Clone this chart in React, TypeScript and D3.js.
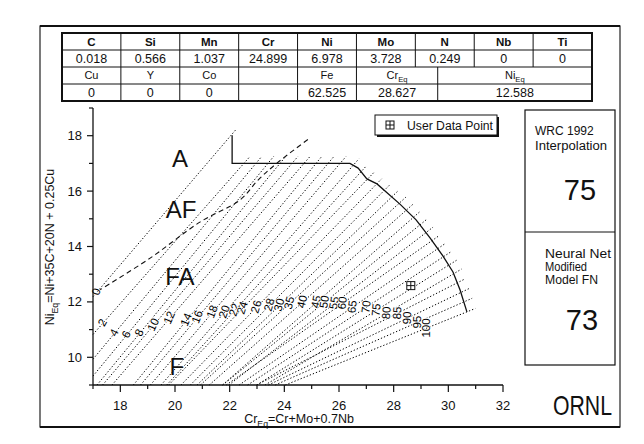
import React from "react";
import * as d3 from "d3";

// iso-ferrite lines: where each label sits and where the line meets the boundary
const fnValues = [0, 2, 4, 6, 8, 10, 12, 14, 16, 18, 20, 22, 24, 26, 28, 30, 35, 40, 45, 50, 55, 60, 65, 70, 75, 80, 85, 90, 95, 100];
const labelCr = [17.15, 17.37, 17.8, 18.24, 18.72, 19.23, 19.82, 20.44, 20.84, 21.39, 21.83, 22.2, 22.49, 23.0, 23.48, 23.84, 24.21, 24.68, 25.2, 25.49, 25.85, 26.15, 26.51, 27.02, 27.39, 27.76, 28.16, 28.52, 28.89, 29.22];
const labelNi = [12.36, 11.24, 10.88, 10.81, 10.88, 11.17, 11.42, 11.35, 11.45, 11.64, 11.64, 11.71, 11.78, 11.82, 11.89, 11.89, 11.96, 12.0, 12.0, 12.0, 11.96, 11.96, 11.82, 11.82, 11.71, 11.6, 11.6, 11.42, 11.27, 11.06];
const endCr = [22.09, 22.52, 22.96, 23.4, 23.84, 24.28, 24.72, 25.16, 25.6, 26.04, 26.51, 26.78, 27.04, 27.33, 27.62, 27.91, 28.2, 28.46, 28.72, 28.96, 29.18, 29.4, 29.61, 29.82, 30.02, 30.2, 30.33, 30.46, 30.57, 30.68];
const endNi = [18.06, 17, 17, 17, 17, 17, 17, 17, 17, 17, 16.92, 16.67, 16.43, 16.21, 15.99, 15.77, 15.56, 15.31, 15.05, 14.78, 14.5, 14.21, 13.92, 13.63, 13.33, 13.02, 12.69, 12.34, 12.0, 11.64];

// solid outline of the diagram (top step and the curved right side)
const boundaryCr = [22.09, 22.09, 26.4, 26.7, 27.02, 27.39, 28.23, 28.82, 29.33, 29.8, 30.17, 30.43, 30.68];
const boundaryNi = [18.02, 17.0, 17.0, 16.83, 16.44, 16.26, 15.53, 14.96, 14.31, 13.66, 13.08, 12.43, 11.64];

// AF / FA dashed boundary
const dashCr = [17.18, 19.09, 20.91, 22.38, 23.04, 23.73, 24.94];
const dashNi = [12.39, 13.58, 14.88, 15.68, 16.4, 17.01, 17.92];

const regionNames = ["A", "AF", "FA", "F"];
const regionCr = [20.18, 20.22, 20.18, 20.07];
const regionNi = [16.87, 15.03, 12.61, 9.36];

const userCr = 28.627;
const userNi = 12.588;

const xTicks = [17, 18, 19, 20, 21, 22, 23, 24, 25, 26, 27, 28, 29, 30, 31, 32];
const xTickLabels = [18, 20, 22, 24, 26, 28, 30, 32];
const yTicks = [9, 10, 11, 12, 13, 14, 15, 16, 17, 18, 19];
const yTickLabels = [10, 12, 14, 16, 18];

const headRow1 = ["C", "Si", "Mn", "Cr", "Ni", "Mo", "N", "Nb", "Ti"];
const valRow1 = ["0.018", "0.566", "1.037", "24.899", "6.978", "3.728", "0.249", "0", "0"];
const headRow2 = ["Cu", "Y", "Co", "", "Fe", "Cr|Eq", "Ni|Eq"];
const valRow2 = ["0", "0", "0", "", "62.525", "28.627", "12.588"];
const spanRow2 = [1, 1, 1, 1, 1, 1.38, 2.62];

const wrcFN = "75";
const nnFN = "73";

const font = "'Liberation Sans', Arial, sans-serif";

function Sub({ s, size }: { s: string; size: number }) {
  const [a, b] = s.split("|");
  if (!b) return <>{a}</>;
  return (
    <>
      {a}
      <tspan fontSize={size * 0.7} dy={size * 0.28}>{b}</tspan>
    </>
  );
}

export default function App() {
  const x = d3.scaleLinear().domain([17, 32]).range([93, 503]);
  const y = d3.scaleLinear().domain([9, 19]).range([385, 108]);

  const lineGen = d3
    .line<[number, number]>()
    .x((d) => x(d[0]))
    .y((d) => y(d[1]));

  const fnLines = fnValues.map((fn, i) => {
    const lx = x(labelCr[i]);
    const ly = y(labelNi[i]);
    const ex = x(endCr[i]);
    const ey = y(endNi[i]);
    const len = Math.hypot(ex - lx, ey - ly);
    const ux = (ex - lx) / len;
    const uy = (ey - ly) / len;
    const tLeft = (lx - x(17)) / ux;
    const tBottom = (y(9) - ly) / -uy;
    const t = Math.min(tLeft, tBottom);
    const over = i === 0 ? 6 : 9;
    return {
      fn,
      x1: lx - t * ux,
      y1: ly - t * uy,
      x2: ex + over * ux,
      y2: ey + over * uy,
      lx,
      ly,
      angle: i === 0 ? -70 : -60 - (30 * i) / (fnValues.length - 1),
    };
  });

  const boundary = lineGen(boundaryCr.map((c, i) => [c, boundaryNi[i]] as [number, number]));
  const dashPath = d3
    .line<[number, number]>()
    .x((d) => x(d[0]))
    .y((d) => y(d[1]))
    .curve(d3.curveCatmullRom)(dashCr.map((c, i) => [c, dashNi[i]] as [number, number]));

  // table geometry
  const tx0 = 62;
  const tx1 = 592;
  const colW = (tx1 - tx0) / headRow1.length;
  const rowY = [33, 50, 67, 84, 101];
  let acc = tx0;
  const row2Edges = [tx0, ...spanRow2.map((s) => (acc += s * colW))];

  const ux = x(userCr);
  const uy = y(userNi);

  return (
    <div style={{ position: "fixed", left: 0, top: 0 }}>
      <svg width={644} height={444} style={{ display: "block", background: "#fff" }} fontFamily={font}>
        {/* outer frame */}
        <rect x={40} y={26} width={580} height={401} fill="none" stroke="#222" strokeWidth={1.2} />
        <line x1={40} x2={620} y1={26} y2={26} stroke="#111" strokeWidth={2} />
        <line x1={40} x2={620} y1={427} y2={427} stroke="#111" strokeWidth={2} />

        {/* composition table */}
        <g>
          <rect x={tx0} y={rowY[0]} width={tx1 - tx0} height={rowY[4] - rowY[0]} fill="none" stroke="#111" strokeWidth={2} />
          {rowY.slice(1, 4).map((ry) => (
            <line key={ry} x1={tx0} x2={tx1} y1={ry} y2={ry} stroke="#111" strokeWidth={1} />
          ))}
          {headRow1.slice(1).map((_, i) => (
            <line key={"c" + i} x1={tx0 + (i + 1) * colW} x2={tx0 + (i + 1) * colW} y1={rowY[0]} y2={rowY[2]} stroke="#111" strokeWidth={1} />
          ))}
          {row2Edges.slice(1, -1).map((ex, i) => (
            <line key={"d" + i} x1={ex} x2={ex} y1={rowY[2]} y2={rowY[4]} stroke="#111" strokeWidth={1} />
          ))}
          {headRow1.map((h, i) => (
            <text key={"h1" + i} x={tx0 + (i + 0.5) * colW} y={rowY[1] - 4} textAnchor="middle" fontSize={11.5} fontWeight="bold" fill="#111">
              {h}
            </text>
          ))}
          {valRow1.map((v, i) => (
            <text key={"v1" + i} x={tx0 + (i + 0.5) * colW} y={rowY[2] - 4} textAnchor="middle" fontSize={12.5} fill="#111">
              {v}
            </text>
          ))}
          {headRow2.map((h, i) => (
            <text key={"h2" + i} x={(row2Edges[i] + row2Edges[i + 1]) / 2} y={rowY[3] - 5} textAnchor="middle" fontSize={11} fill="#111">
              <Sub s={h} size={11} />
            </text>
          ))}
          {valRow2.map((v, i) => (
            <text key={"v2" + i} x={(row2Edges[i] + row2Edges[i + 1]) / 2} y={rowY[4] - 4} textAnchor="middle" fontSize={12.5} fill="#111">
              {v}
            </text>
          ))}
        </g>

        {/* right panel */}
        <rect x={525} y={110} width={90} height={255} fill="none" stroke="#111" strokeWidth={1.2} />
        <line x1={525} x2={615} y1={232} y2={232} stroke="#111" strokeWidth={1} />
        <text x={535} y={135} fontSize={12} fill="#111">WRC 1992</text>
        <text x={535} y={150} fontSize={12} fill="#111" textLength={72} lengthAdjust="spacingAndGlyphs">Interpolation</text>
        <text x={580} y={200} fontSize={29} textAnchor="middle" fill="#111">{wrcFN}</text>
        <text x={545} y={258} fontSize={12} fill="#111" textLength={66} lengthAdjust="spacingAndGlyphs">Neural Net</text>
        <text x={545} y={271} fontSize={12} fill="#111" textLength={42} lengthAdjust="spacingAndGlyphs">Modified</text>
        <text x={545} y={284} fontSize={12} fill="#111" textLength={53} lengthAdjust="spacingAndGlyphs">Model FN</text>
        <text x={582} y={330} fontSize={29} textAnchor="middle" fill="#111">{nnFN}</text>
        <text x={553} y={415} fontSize={28} fill="#111" textLength={59} lengthAdjust="spacingAndGlyphs">ORNL</text>

        {/* iso-FN lines */}
        <g stroke="#000" strokeWidth={1} strokeDasharray="1.3 2" fill="none">
          {fnLines.map((l) => (
            <line key={l.fn} x1={l.x1} y1={l.y1} x2={l.x2} y2={l.y2} />
          ))}
        </g>
        <path d={dashPath ?? ""} fill="none" stroke="#111" strokeWidth={1.1} strokeDasharray="5 3.5" />
        <path d={boundary ?? ""} fill="none" stroke="#111" strokeWidth={1.3} />

        {fnLines.map((l) => (
          <text
            key={"t" + l.fn}
            transform={`translate(${l.lx},${l.ly}) rotate(${l.angle})`}
            textAnchor="middle"
            dominantBaseline="middle"
            fontSize={11.5}
            fill="#000"
            stroke="#fff"
            strokeWidth={1.5}
            paintOrder="stroke"
          >
            {l.fn}
          </text>
        ))}

        {regionNames.map((r, i) => (
          <text key={r} x={x(regionCr[i])} y={y(regionNi[i])} fontSize={24} textAnchor="middle" fill="#111">
            {r}
          </text>
        ))}

        {/* user data point */}
        <g stroke="#111" strokeWidth={1} fill="#fff">
          <rect x={ux - 4} y={uy - 4} width={8} height={8} />
          <line x1={ux} x2={ux} y1={uy - 4} y2={uy + 4} />
          <line x1={ux - 4} x2={ux + 4} y1={uy} y2={uy} />
        </g>

        {/* legend */}
        <rect x={377} y={117} width={122} height={20} fill="#111" />
        <rect x={375} y={115} width={122} height={20} fill="#fff" stroke="#111" strokeWidth={1} />
        <g stroke="#111" strokeWidth={1} fill="#fff">
          <rect x={386} y={121} width={8} height={8} />
          <line x1={390} x2={390} y1={121} y2={129} />
          <line x1={386} x2={394} y1={125} y2={125} />
        </g>
        <text x={407} y={130} fontSize={12} fill="#111" textLength={86} lengthAdjust="spacingAndGlyphs">User Data Point</text>

        {/* axes */}
        <line x1={x(17)} x2={x(32)} y1={y(9)} y2={y(9)} stroke="#111" strokeWidth={1.3} />
        <line x1={x(17)} x2={x(17)} y1={y(9)} y2={y(19)} stroke="#111" strokeWidth={1.3} />
        {xTicks.map((t) => (
          <line key={"xt" + t} x1={x(t)} x2={x(t)} y1={y(9)} y2={y(9) + (t % 2 === 0 ? 7 : 4)} stroke="#111" strokeWidth={1.2} />
        ))}
        {yTicks.map((t) => (
          <line key={"yt" + t} x1={x(17)} x2={x(17) - (t % 2 === 0 ? 6 : 4)} y1={y(t)} y2={y(t)} stroke="#111" strokeWidth={1.2} />
        ))}
        {xTickLabels.map((t) => (
          <text key={"xl" + t} x={x(t)} y={410} textAnchor="middle" fontSize={13} fill="#111">
            {t}
          </text>
        ))}
        {yTickLabels.map((t) => (
          <text key={"yl" + t} x={82} y={y(t) + 4.5} textAnchor="end" fontSize={13} fill="#111">
            {t}
          </text>
        ))}
        <text x={299} y={423} textAnchor="middle" fontSize={12.5} fill="#111">
          <Sub s="Cr|Eq" size={12.5} />
          <tspan dy={-12.5 * 0.28}>=Cr+Mo+0.7Nb</tspan>
        </text>
        <text transform="translate(54,247) rotate(-90)" textAnchor="middle" fontSize={12.5} fill="#111">
          <Sub s="Ni|Eq" size={12.5} />
          <tspan dy={-12.5 * 0.28}>=Ni+35C+20N + 0.25Cu</tspan>
        </text>
      </svg>
    </div>
  );
}
